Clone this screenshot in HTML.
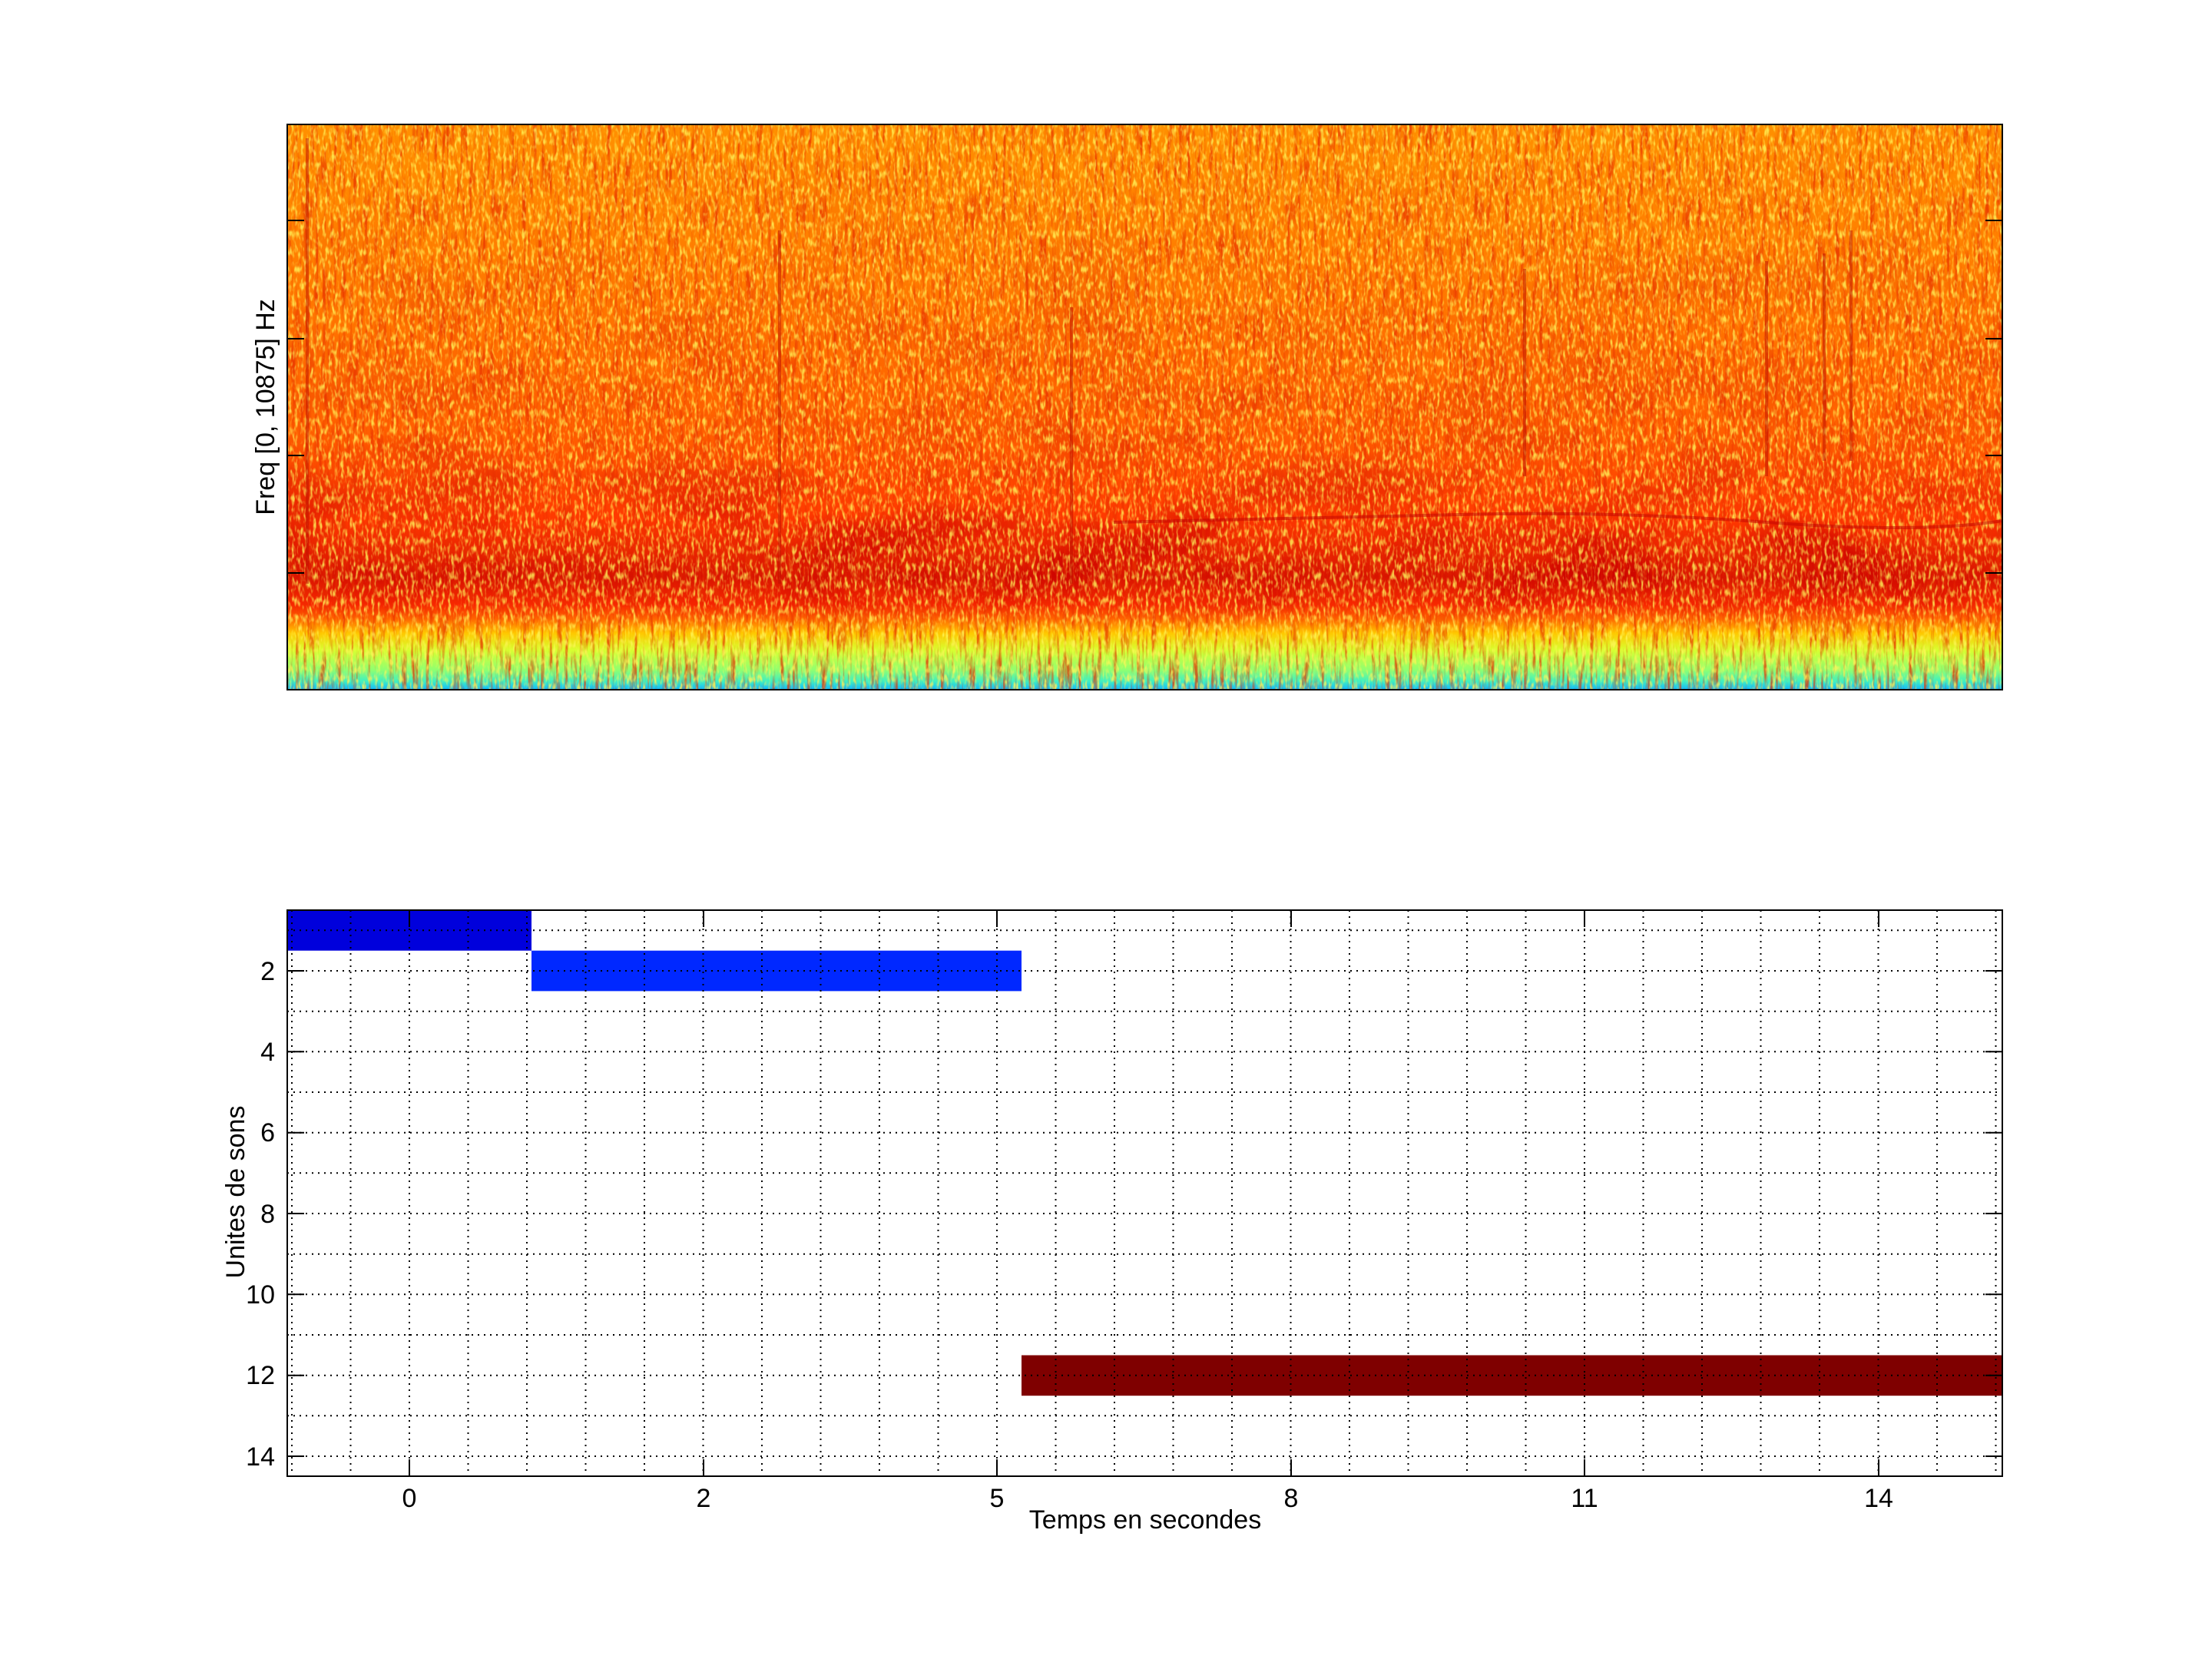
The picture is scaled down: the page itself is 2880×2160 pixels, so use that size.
<!DOCTYPE html>
<html><head><meta charset="utf-8"><style>
html,body{margin:0;padding:0;background:#fff;}
svg{display:block;}
text{font-family:"Liberation Sans",sans-serif;fill:#000;}
</style></head><body>
<svg width="2880" height="2160" viewBox="0 0 2880 2160" xmlns="http://www.w3.org/2000/svg">
<defs>
<linearGradient id="spec" x1="0" y1="0" x2="0" y2="1">
<stop offset="0" stop-color="#ff9000"/>
<stop offset="0.3" stop-color="#ff7800"/>
<stop offset="0.55" stop-color="#ff5e00"/>
<stop offset="0.7" stop-color="#ff3800"/>
<stop offset="0.8" stop-color="#d81400"/>
<stop offset="0.85" stop-color="#f82800"/>
<stop offset="0.875" stop-color="#ff6800"/>
<stop offset="0.9" stop-color="#ffc800"/>
<stop offset="0.93" stop-color="#d8ff30"/>
<stop offset="0.965" stop-color="#90ff70"/>
<stop offset="0.985" stop-color="#40f0c0"/>
<stop offset="1" stop-color="#10b8ff"/>
</linearGradient>
<filter id="yel" x="0" y="0" width="100%" height="100%">
<feTurbulence type="fractalNoise" baseFrequency="0.25 0.09" numOctaves="2" seed="3"/>
<feColorMatrix type="matrix" values="0 0 0 0 1  0 0 0 0 0.92  0 0 0 0 0.1  3.2 0 0 0 -1.5"/>
</filter>
<filter id="red" x="0" y="0" width="100%" height="100%">
<feTurbulence type="fractalNoise" baseFrequency="0.2 0.02" numOctaves="3" seed="7"/>
<feColorMatrix type="matrix" values="0 0 0 0 0.8  0 0 0 0 0.03  0 0 0 0 0  0 3 0 0 -1.4"/>
</filter>
<filter id="blot" x="0" y="0" width="100%" height="100%">
<feTurbulence type="fractalNoise" baseFrequency="0.006 0.015" numOctaves="2" seed="11"/>
<feColorMatrix type="matrix" values="0 0 0 0 0.6  0 0 0 0 0  0 0 0 0 0  0 4 0 0 -1.8"/>
</filter>
<linearGradient id="bandmask" x1="0" y1="0" x2="0" y2="1">
<stop offset="0" stop-color="#fff" stop-opacity="0"/>
<stop offset="0.6" stop-color="#fff" stop-opacity="0.3"/>
<stop offset="0.8" stop-color="#fff" stop-opacity="1"/>
<stop offset="0.88" stop-color="#fff" stop-opacity="0"/>
</linearGradient>
<mask id="bm"><rect x="374" y="162" width="2233" height="736" fill="url(#bandmask)"/></mask>
<clipPath id="cp"><rect x="374" y="162" width="2233" height="736"/></clipPath>
</defs>

<!-- Spectrogram -->
<g clip-path="url(#cp)">
<rect x="374" y="162" width="2233" height="736" fill="url(#spec)"/>
<rect x="374" y="162" width="2233" height="736" filter="url(#blot)" mask="url(#bm)" opacity="0.7"/>
<rect x="374" y="162" width="2233" height="736" filter="url(#red)" opacity="0.75"/>
<rect x="374" y="162" width="2233" height="736" filter="url(#yel)" opacity="0.8"/>
<g stroke="#c01000" stroke-width="4" opacity="0.5">
<line x1="400" y1="180" x2="400" y2="760"/>
<line x1="1015" y1="300" x2="1015" y2="760"/>
<line x1="1395" y1="400" x2="1395" y2="760"/>
<line x1="1985" y1="350" x2="1985" y2="620"/>
<line x1="2300" y1="340" x2="2300" y2="620"/>
<line x1="2375" y1="330" x2="2375" y2="600"/>
<line x1="2410" y1="300" x2="2410" y2="600"/>
</g>
<path d="M1450 680 Q1700 675 1900 670 T2300 680 T2607 678" stroke="#c00000" stroke-width="4" fill="none" opacity="0.5"/>
</g>
<rect x="374" y="162" width="2233" height="736" fill="none" stroke="#000" stroke-width="2"/>
<g stroke="#000" stroke-width="2">
<line x1="374" y1="287" x2="396" y2="287"/><line x1="374" y1="441" x2="396" y2="441"/>
<line x1="374" y1="593" x2="396" y2="593"/><line x1="374" y1="746" x2="396" y2="746"/>
<line x1="2607" y1="287" x2="2585" y2="287"/><line x1="2607" y1="441" x2="2585" y2="441"/>
<line x1="2607" y1="593" x2="2585" y2="593"/><line x1="2607" y1="746" x2="2585" y2="746"/>
</g>
<text transform="translate(357,530) rotate(-90)" font-size="34" text-anchor="middle">Freq [0, 10875] Hz</text>

<!-- Lower plot -->
<rect x="374" y="1185" width="318" height="52.7" fill="#0000dc"/>
<rect x="692" y="1237.7" width="638" height="52.7" fill="#0028ff"/>
<rect x="1330" y="1764.5" width="1277" height="52.7" fill="#7f0000"/>
<g stroke="#000" stroke-width="2" stroke-dasharray="2,6" fill="none">
<path d="M374 1211.3H2607M374 1264H2607M374 1316.7H2607M374 1369.3H2607M374 1422H2607M374 1474.7H2607M374 1527.3H2607M374 1580H2607M374 1632.7H2607M374 1685.3H2607M374 1738H2607M374 1790.7H2607M374 1843.3H2607M374 1896H2607"/>
<path d="M380 1185V1922M456.5 1185V1922M533 1185V1922M609.5 1185V1922M686 1185V1922M762.5 1185V1922M839 1185V1922M915.5 1185V1922M992 1185V1922M1068.5 1185V1922M1145 1185V1922M1221.5 1185V1922M1298 1185V1922M1374.5 1185V1922M1451 1185V1922M1527.5 1185V1922M1604 1185V1922M1680.5 1185V1922M1757 1185V1922M1833.5 1185V1922M1910 1185V1922M1986.5 1185V1922M2063 1185V1922M2139.5 1185V1922M2216 1185V1922M2292.5 1185V1922M2369 1185V1922M2445.5 1185V1922M2522 1185V1922M2598.5 1185V1922"/>
</g>
<rect x="374" y="1185" width="2233" height="737" fill="none" stroke="#000" stroke-width="2"/>
<g stroke="#000" stroke-width="2">
<path d="M374 1264h22M374 1369.3h22M374 1474.7h22M374 1580h22M374 1685.3h22M374 1790.7h22M374 1896h22"/>
<path d="M2607 1264h-22M2607 1369.3h-22M2607 1474.7h-22M2607 1580h-22M2607 1685.3h-22M2607 1790.7h-22M2607 1896h-22"/>
<path d="M533 1922v-22M916 1922v-22M1298 1922v-22M1681 1922v-22M2063 1922v-22M2446 1922v-22"/>
<path d="M533 1185v22M916 1185v22M1298 1185v22M1681 1185v22M2063 1185v22M2446 1185v22"/>
</g>
<g font-size="34" text-anchor="end">
<text x="358" y="1276">2</text><text x="358" y="1381">4</text><text x="358" y="1486">6</text>
<text x="358" y="1592">8</text><text x="358" y="1697">10</text><text x="358" y="1802">12</text>
<text x="358" y="1908">14</text>
</g>
<g font-size="34" text-anchor="middle">
<text x="533" y="1962">0</text><text x="916" y="1962">2</text><text x="1298" y="1962">5</text>
<text x="1681" y="1962">8</text><text x="2063" y="1962">11</text><text x="2446" y="1962">14</text>
</g>
<text x="1491" y="1990" font-size="34" text-anchor="middle">Temps en secondes</text>
<text transform="translate(318,1552) rotate(-90)" font-size="34" text-anchor="middle">Unites de sons</text>
</svg>
</body></html>
